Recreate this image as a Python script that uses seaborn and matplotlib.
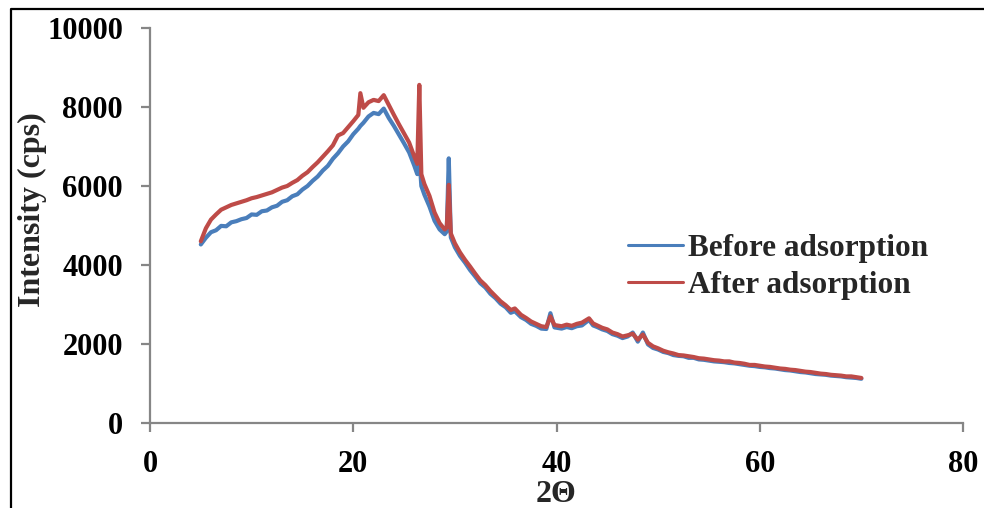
import pandas as pd
import matplotlib
matplotlib.use("Agg")
import matplotlib.pyplot as plt
import seaborn as sns

# 2-theta positions (denser round the peaks)
twoTheta = [5.0, 5.5, 6.0, 6.5, 7.0, 7.5, 8.0, 8.5, 9.0, 9.5, 10.0, 10.5, 11.0, 11.5, 12.0, 12.5,
            13.0, 13.5, 14.0, 14.5, 15.0, 15.5, 16.0, 16.5, 17.0, 17.5, 18.0, 18.5, 19.0, 19.5, 20.0, 20.5,
            20.7, 21.0, 21.5, 22.0, 22.5, 23.0, 23.5, 24.0, 24.5, 25.0, 25.5, 26.0, 26.3, 26.5, 26.7,
            27.0, 27.5, 28.0, 28.5, 29.0, 29.2, 29.4, 29.6,
            30.0, 30.5, 31.0, 31.5, 32.0, 32.5, 33.0, 33.5, 34.0, 34.5, 35.0, 35.5, 35.9, 36.5, 37.0,
            37.5, 38.0, 38.5, 39.0, 39.4, 39.8, 40.5, 41.0, 41.5, 42.0, 42.5, 43.2, 43.6, 44.0, 44.5,
            45.0, 45.5, 46.0, 46.5, 47.0, 47.5, 48.0, 48.5, 49.0, 49.5,
            50.0, 50.5, 51.0, 51.5, 52.0, 52.5, 53.0, 53.5, 54.0, 54.5, 55.0, 55.5, 56.0, 56.5, 57.0,
            57.5, 58.0, 58.5, 59.0, 59.5, 60.0, 60.5, 61.0, 61.5, 62.0, 62.5, 63.0, 63.5, 64.0, 64.5,
            65.0, 65.5, 66.0, 66.5, 67.0, 67.5, 68.0, 68.5, 69.0, 69.5, 70.0]

beforeCps = [4520, 4690, 4830, 4880, 4990, 4980, 5080, 5110, 5160, 5190, 5280, 5270, 5360, 5380, 5460, 5500,
             5600, 5640, 5740, 5790, 5910, 6000, 6130, 6240, 6390, 6510, 6690, 6830, 7000, 7130, 7310, 7450,
             7520, 7600, 7760, 7850, 7820, 7960, 7720, 7520, 7300, 7080, 6850, 6520, 6300, 6750, 6000,
             5780, 5480, 5120, 4900, 4780, 4850, 6700, 4700,
             4450, 4230, 4060, 3870, 3710, 3540, 3430, 3270, 3160, 3020, 2930, 2790, 2830, 2680, 2610,
             2510, 2460, 2390, 2380, 2780, 2420, 2390, 2430, 2400, 2450, 2470, 2610, 2470, 2430, 2370,
             2330, 2250, 2210, 2150, 2190, 2290, 2060, 2290, 1990, 1900,
             1860, 1800, 1770, 1720, 1700, 1690, 1650, 1650, 1610, 1600, 1580, 1560, 1550, 1540, 1520,
             1510, 1490, 1470, 1450, 1440, 1420, 1410, 1390, 1380, 1360, 1340, 1330, 1310, 1290, 1280,
             1260, 1240, 1230, 1220, 1200, 1190, 1180, 1160, 1150, 1140, 1120]

afterCps = [4600, 4930, 5150, 5280, 5400, 5460, 5520, 5560, 5600, 5640, 5690, 5720, 5760, 5800, 5840, 5900,
            5960, 6000, 6080, 6150, 6260, 6350, 6480, 6600, 6740, 6880, 7030, 7280, 7340, 7490, 7640, 7800,
            8350, 7980, 8120, 8180, 8150, 8300, 8050, 7800, 7560, 7330, 7100, 6750, 6560, 8560, 6300,
            6050, 5750, 5330, 5060, 4900, 4950, 6030, 4800,
            4550, 4320, 4130, 3960, 3780, 3610, 3490, 3340, 3210, 3080, 2980, 2860, 2900, 2740, 2660,
            2570, 2510, 2450, 2430, 2700, 2480, 2450, 2490, 2460, 2510, 2540, 2650, 2520, 2470, 2410,
            2370, 2290, 2250, 2190, 2220, 2260, 2110, 2240, 2030, 1940,
            1890, 1830, 1790, 1760, 1720, 1710, 1690, 1670, 1640, 1630, 1610, 1590, 1580, 1560, 1560,
            1530, 1520, 1500, 1470, 1470, 1450, 1430, 1420, 1400, 1380, 1370, 1350, 1340, 1320, 1300,
            1290, 1270, 1250, 1240, 1220, 1210, 1200, 1180, 1180, 1160, 1140]

seriesNames = ['Before adsorption', 'After adsorption']
xTicks = [0, 20, 40, 60, 80]
yTicks = [0, 2000, 4000, 6000, 8000, 10000]


def buildFrame():
    rows = []
    for name, values in zip(seriesNames, [beforeCps, afterCps]):
        for x, y in zip(twoTheta, values):
            rows.append({'twoTheta': x, 'cps': y, 'sample': name})
    return pd.DataFrame(rows)


def makePlot(df):
    sns.set_theme(style="white")
    plt.rcParams['font.family'] = ['Liberation Serif', 'DejaVu Serif']
    plt.rcParams['font.weight'] = 'bold'

    fig = plt.figure(figsize=(9.84, 5.08), dpi=100)
    ax = fig.add_axes([150 / 984, 1 - 423 / 508, 813 / 984, 395 / 508])

    sns.lineplot(data=df, x='twoTheta', y='cps', hue='sample', hue_order=seriesNames,
                 palette=['#4A7EBB', '#BE4B48'], linewidth=3.0, errorbar=None,
                 estimator=None, sort=True, ax=ax)

    axisGray = '#868686'
    for side in ['top', 'right']:
        ax.spines[side].set_visible(False)
    for side in ['left', 'bottom']:
        ax.spines[side].set_color(axisGray)
        ax.spines[side].set_linewidth(1.6)

    ax.set_xlim(0, 80)
    ax.set_ylim(0, 10000)
    ax.set_xticks(xTicks)
    ax.set_yticks(yTicks)
    ax.tick_params(axis='both', direction='out', length=6.5, width=1.6, color=axisGray,
                   labelsize=22, labelcolor='black', bottom=True, left=True)
    ax.tick_params(axis='y', pad=13)
    ax.tick_params(axis='x', pad=13)
    for lbl in ax.get_xticklabels() + ax.get_yticklabels():
        lbl.set_fontweight('bold')

    ax.set_xlabel('2Θ', fontsize=23, fontweight='bold')
    ax.xaxis.set_label_coords(0.5, -0.144)
    ax.set_ylabel('Intensity (cps)', fontsize=23, fontweight='bold')
    ax.yaxis.set_label_coords(-0.127, 0.54)

    leg = ax.legend(loc='upper left', bbox_to_anchor=(0.588, 0.478), frameon=False,
                    fontsize=22.5, handlelength=1.75, handletextpad=0.16, labelspacing=0.25,
                    borderpad=0, borderaxespad=0)
    for line in leg.get_lines():
        line.set_linewidth(2.2)
    for txt in leg.get_texts():
        txt.set_fontweight('bold')

    # outer frame, only top and left edges show in the original crop
    top = 1 - 9 / 508
    left = 11 / 984
    fig.add_artist(plt.Line2D([left, left, 1.0], [0.0, top, top], color='black',
                              linewidth=1.6, transform=fig.transFigure))

    fig.savefig('out.png', dpi=100)
    plt.close(fig)


if __name__ == "__main__":
    df = buildFrame()
    makePlot(df)
